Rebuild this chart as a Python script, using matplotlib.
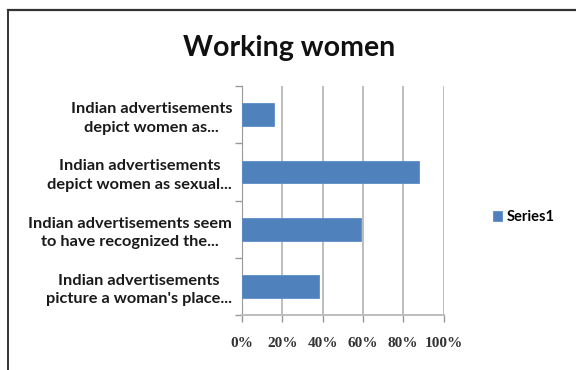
import matplotlib
matplotlib.use("Agg")
import matplotlib.pyplot as plt
from matplotlib.lines import Line2D
from matplotlib.ticker import FixedLocator, PercentFormatter

# Survey statements (top to bottom) and share of respondents
categories = [
    "Indian advertisements\ndepict women as...",
    "Indian advertisements\ndepict women as sexual...",
    "Indian advertisements seem\nto have recognized the...",
    "Indian advertisements\npicture a woman's place...",
]
values = [0.16, 0.88, 0.59, 0.38]
series_name = "Series1"
title = "Working women"
x_ticks = [0, 0.2, 0.4, 0.6, 0.8, 1.0]

bar_color = "#4F81BD"
grid_color = "#BDBDBD"

fig = plt.figure(figsize=(5.76, 3.70), dpi=100)
ax = fig.add_axes([0.42, 0.149, 0.350, 0.618])

y = list(range(len(categories)))
bars = ax.barh(y, values, height=0.4, color=bar_color, edgecolor="#5B8CC6",
               linewidth=0.6, label=series_name, zorder=3)

ax.set_xlim(0, 1.0)
ax.set_ylim(len(categories) - 0.5, -0.5)

ax.xaxis.set_major_locator(FixedLocator(x_ticks))
ax.xaxis.set_major_formatter(PercentFormatter(1.0, decimals=0))
ax.grid(axis="x", color=grid_color, linewidth=1.4, zorder=0)
ax.set_axisbelow(True)

# category labels centred between boundary ticks
ax.set_yticks(y)
ax.set_yticklabels(categories, fontfamily="Lato", fontweight="bold",
                   fontsize=11.8, multialignment="center", color="#1a1a1a",
                   linespacing=1.42)
ax.tick_params(axis="y", length=0, pad=7)
ax.set_yticks([i - 0.5 for i in range(len(categories) + 1)], minor=True)
ax.tick_params(axis="y", which="minor", length=5, color="#999999", width=1)

ax.tick_params(axis="x", length=5, color="#999999", width=1, pad=11,
               labelsize=11)
for lab in ax.get_xticklabels():
    lab.set_fontfamily("Liberation Serif")
    lab.set_fontweight("bold")
    lab.set_color("#333333")

for side in ("top", "right"):
    ax.spines[side].set_visible(False)
ax.spines["left"].set_color("#999999")
ax.spines["bottom"].set_color("#BDBDBD")
ax.spines["bottom"].set_linewidth(1.4)

fig.text(0.502, 0.87, title, ha="center", va="center", fontfamily="Lato",
         fontweight="bold", fontsize=20.5, color="#111111")

fig.legend(handles=[bars], labels=[series_name], loc="center left",
           bbox_to_anchor=(0.833, 0.413), frameon=False, handlelength=0.65,
           handleheight=0.65, handletextpad=0.3,
           prop={"family": "Lato", "weight": "bold", "size": 10.5})

# chart frame
fig.add_artist(Line2D([8 / 576, 1.0], [1 - 9.5 / 370, 1 - 9.5 / 370],
                      transform=fig.transFigure, color="#333333", linewidth=1.6))
fig.add_artist(Line2D([8 / 576, 8 / 576], [0.0, 1 - 9.5 / 370],
                      transform=fig.transFigure, color="#333333", linewidth=1.4))

fig.savefig("out.png", dpi=100)
